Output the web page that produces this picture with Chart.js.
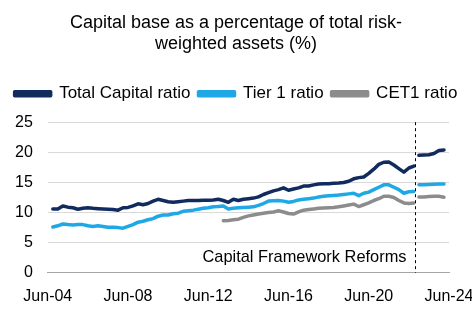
<!DOCTYPE html>
<html>
<head>
<meta charset="utf-8">
<script src="https://cdn.jsdelivr.net/npm/chart.js@4"></script>
<style>
  html, body { margin: 0; padding: 0; background: #fff; }
  canvas { display: block; }
</style>
</head>
<body>
<canvas id="grafico" width="472" height="336"></canvas>
<script>
// Quarterly ratios, Jun-04 to Jun-24 (null where there is no observation)
const trimestres = [];
const meses = ['Mar', 'Jun', 'Sep', 'Dec'];
for (let i = 0; i < 81; i++) {
  const m = 1 + i; // Jun-04 is index 0
  const anio = 4 + Math.floor(m / 4);
  trimestres.push(meses[m % 4] + '-' + String(anio).padStart(2, '0'));
}
const etiquetasEje = ['Jun-04', 'Jun-08', 'Jun-12', 'Jun-16', 'Jun-20', 'Jun-24'];

const totalCapital = [
  null, 10.6, 10.6, 11.1, 10.9, 10.8, 10.55, 10.7, 10.8, 10.7,
  10.65, 10.6, 10.55, 10.5, 10.4, 10.8, 10.85, 11.1, 11.45, 11.3,
  11.5, 11.9, 12.2, 12.0, 11.8, 11.7, 11.8, 11.9, 12.0, 12.0,
  12.0, 12.05, 12.05, 12.1, 12.2, 12.0, 11.7, 12.2, 12.0, 12.2,
  12.3, 12.4, 12.6, 13.0, 13.3, 13.6, 13.8, 14.1, 13.7, 13.9,
  14.1, 14.4, 14.4, 14.6, 14.75, 14.8, 14.8, 14.85, 14.9, 15.0,
  15.2, 15.6, 15.8, 15.9, 16.5, 17.2, 18.0, 18.35, 18.4, 17.9,
  17.3, 16.7, 17.4, 17.7, 19.5, 19.55, 19.6, 19.8, 20.3, 20.4,
  null
];

const tier1 = [
  null, 7.6, 7.8, 8.1, 8.0, 7.95, 8.0, 8.0, 7.8, 7.7,
  7.8, 7.7, 7.55, 7.55, 7.5, 7.4, 7.7, 8.0, 8.4, 8.55,
  8.8, 9.0, 9.4, 9.6, 9.6, 9.8, 9.9, 10.2, 10.3, 10.4,
  10.55, 10.7, 10.8, 10.95, 11.0, 11.1, 10.6, 10.7, 10.8, 10.85,
  10.9, 10.95, 11.2, 11.5, 11.9, 11.95, 12.0, 11.9, 11.7, 11.85,
  12.1, 12.2, 12.3, 12.4, 12.6, 12.7, 12.8, 12.85, 12.9, 13.0,
  13.1, 13.2, 12.8, 13.2, 13.4, 13.8, 14.2, 14.6, 14.6, 14.2,
  13.8, 13.2, 13.45, 13.5, 14.6, 14.6, 14.65, 14.7, 14.75, 14.75,
  null
];

const cet1 = [
  null, null, null, null, null, null, null, null, null, null,
  null, null, null, null, null, null, null, null, null, null,
  null, null, null, null, null, null, null, null, null, null,
  null, null, null, null, null, 8.65, 8.7, 8.8, 8.9, 9.2,
  9.45, 9.6, 9.75, 9.9, 10.0, 10.1, 10.3, 10.1, 9.85, 9.75,
  10.1, 10.4, 10.5, 10.6, 10.7, 10.75, 10.8, 10.85, 10.95, 11.1,
  11.25, 11.4, 11.0, 11.3, 11.6, 12.0, 12.3, 12.7, 12.7, 12.5,
  12.0, 11.6, 11.5, 11.6, 12.6, 12.6, 12.65, 12.7, 12.7, 12.55,
  null
];

// Series break: last quarter before the new framework
const ultimoAntes = 73;
const posReforma = 73.3;
const textoReforma = 'Capital Framework Reforms';

const colores = ['#112b5f', '#1ea9e6', '#8c8c8c'];

Chart.defaults.font.family = '"Liberation Sans", Arial, sans-serif';
Chart.defaults.color = '#000';

function serie(label, data, color) {
  return {
    label: label,
    data: data,
    borderColor: color,
    backgroundColor: color,
    borderWidth: 3.5,
    borderCapStyle: 'round',
    borderJoinStyle: 'round',
    pointRadius: 0,
    pointHoverRadius: 0,
    tension: 0,
    spanGaps: false,
    segment: {
      borderColor: ctx => ctx.p0DataIndex === ultimoAntes ? 'rgba(0,0,0,0)' : undefined
    }
  };
}

// Extra room under the legend
const margenLeyenda = {
  id: 'margenLeyenda',
  beforeInit(chart) {
    const fitOriginal = chart.legend.fit;
    chart.legend.fit = function () {
      fitOriginal.bind(chart.legend)();
      this.height += 10;
    };
  }
};

// Dashed marker and its label
const lineaReforma = {
  id: 'lineaReforma',
  afterDatasetsDraw(chart) {
    const { ctx, chartArea, scales } = chart;
    const x = Math.round(scales.x.getPixelForValue(posReforma)) + 0.5;
    ctx.save();
    ctx.strokeStyle = '#000';
    ctx.lineWidth = 1;
    ctx.setLineDash([3, 3]);
    ctx.beginPath();
    ctx.moveTo(x, chartArea.top);
    ctx.lineTo(x, chartArea.bottom);
    ctx.stroke();
    ctx.setLineDash([]);
    ctx.font = '16.4px "Liberation Sans", Arial, sans-serif';
    ctx.fillStyle = '#000';
    ctx.textAlign = 'right';
    ctx.textBaseline = 'middle';
    ctx.fillText(textoReforma, x - 9, scales.y.getPixelForValue(2.6));
    ctx.restore();
  }
};

new Chart(document.getElementById('grafico'), {
  type: 'line',
  data: {
    labels: trimestres,
    datasets: [
      serie('Total Capital ratio', totalCapital, colores[0]),
      serie('Tier 1 ratio', tier1, colores[1]),
      serie('CET1 ratio', cet1, colores[2])
    ]
  },
  options: {
    responsive: false,
    animation: false,
    layout: { padding: { left: 0, right: 0, top: 0, bottom: 24 } },
    plugins: {
      title: {
        display: true,
        text: ['Capital base as a percentage of total risk-', 'weighted assets (%)'],
        font: { size: 18, weight: 'normal' },
        lineHeight: 0.92,
        padding: { top: 12, bottom: 22 }
      },
      legend: {
        display: true,
        labels: {
          boxWidth: 36,
          boxHeight: 4,
          padding: 8,
          font: { size: 17 }
        }
      },
      tooltip: { enabled: false }
    },
    scales: {
      x: {
        grid: { display: false },
        border: { display: true, color: '#a6a6a6' },
        afterFit: function (escala) {
          escala.paddingRight = 23;
        },
        ticks: {
          autoSkip: false,
          maxRotation: 0,
          padding: 6,
          font: { size: 16 },
          callback: function (valor) {
            const t = this.getLabelForValue(valor);
            return etiquetasEje.includes(t) ? t : '';
          }
        }
      },
      y: {
        min: 0,
        max: 25,
        ticks: { stepSize: 5, padding: 15, font: { size: 16 } },
        grid: { color: '#d9d9d9', drawTicks: false },
        border: { display: false }
      }
    }
  },
  plugins: [margenLeyenda, lineaReforma]
});
</script>
</body>
</html>
